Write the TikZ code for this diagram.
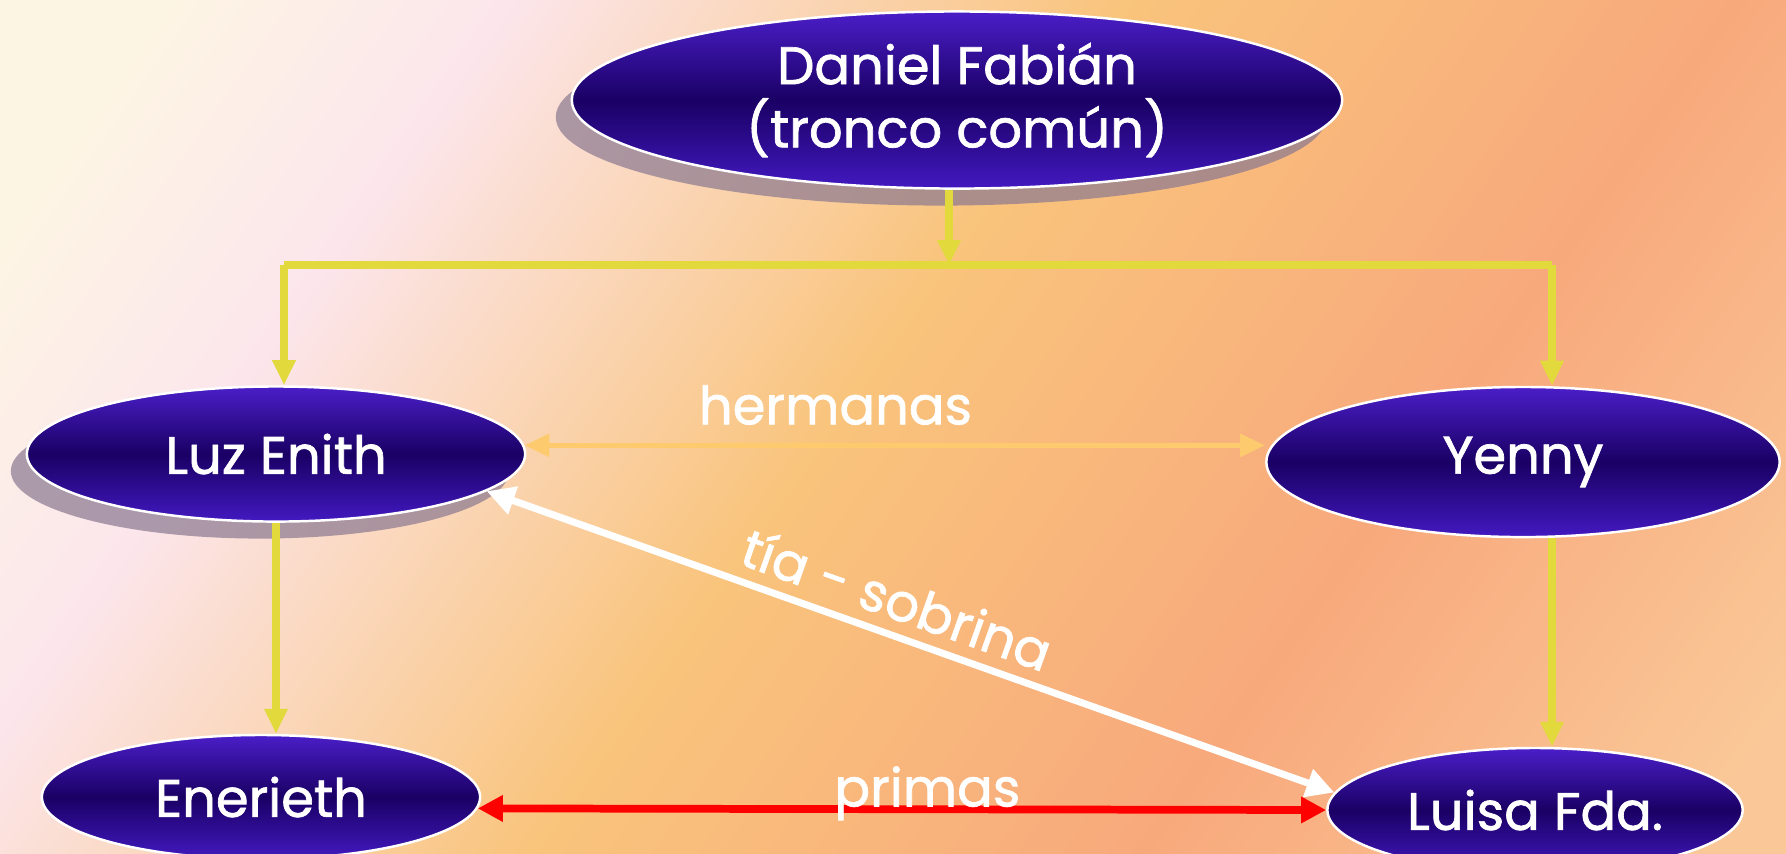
\documentclass[tikz,border=0pt]{standalone}
\usepackage{fontspec}
\setmainfont{Poppins}[FakeBold=1.3]
\usetikzlibrary{shapes.geometric,arrows.meta,shadows}
\definecolor{fondoA}{HTML}{FDF5E4}
\definecolor{fondoB}{HTML}{FCE6EC}
\definecolor{fondoC}{HTML}{F9C47C}
\definecolor{fondoD}{HTML}{F8A97C}
\definecolor{fondoE}{HTML}{FAC898}
\definecolor{ovaloA}{HTML}{4A1EC8}
\definecolor{ovaloB}{HTML}{1A0064}
\definecolor{ovaloC}{HTML}{4219C0}
\definecolor{amarillo}{HTML}{E2DA3C}
\definecolor{naranja}{HTML}{FDCB6E}
\definecolor{sombragris}{HTML}{8A7890}
\pgfdeclarehorizontalshading{fondo}{100bp}{color(0bp)=(fondoA); color(20bp)=(fondoA); color(30bp)=(fondoB); color(48bp)=(fondoC); color(66bp)=(fondoD); color(82bp)=(fondoE); color(100bp)=(fondoE)}
\tikzset{
	persona/.style={ellipse,draw=white,line width=0.7pt,top color=ovaloA,bottom color=ovaloC,middle color=ovaloB,text=white,align=center,inner sep=0pt,font=\fontsize{15}{18}\selectfont},
	sombra/.style={drop shadow={shadow xshift=-1.6mm,shadow yshift=-1.7mm,fill=sombragris,opacity=.7}},
	rama/.style={draw=amarillo,line width=2.2pt},
	rotulo/.style={text=white,font=\fontsize{15}{18}\selectfont}
}
\begin{document}
\begin{tikzpicture}[>={Triangle[length=2.5mm,width=2.2mm]},x=0.01cm,y=-0.01cm]
	\useasboundingbox (0,0) rectangle (1786,853);
	\shade[shading=fondo,shading angle=-35] (0,0) rectangle (1786,853); % fondo
	\node[persona,sombra,minimum width=7.7cm,minimum height=1.77cm] (dan) at (957,100) {Daniel Fabián\\(tronco común)};
	\node[persona,sombra,minimum width=4.98cm,minimum height=1.35cm] (luz) at (276,454) {Luz Enith};
	\node[persona,minimum width=5.13cm,minimum height=1.5cm] (yen) at (1523,462) {Yenny};
	\node[persona,minimum width=4.38cm,minimum height=1.24cm] (ene) at (261,797) {Enerieth};
	\node[persona,minimum width=4.15cm,minimum height=1.24cm] (lui) at (1535,810) {Luisa Fda.};
	\coordinate (ci) at (284,265);
	\coordinate (cm) at (949,265);
	\coordinate (cd) at (1552,265);
	\draw[rama,->] (cm |- dan.south) -- (cm);
	\draw[rama] (ci) -- (cd);
	\draw[rama,->] (ci) -- (ci |- luz.north);
	\draw[rama,->] (cd) -- (cd |- yen.north);
	\draw[rama,->] (luz.south) -- (luz.south |- ene.north); % hija
	\draw[rama,->] (cd |- yen.south) -- (cd |- lui.north); % hija
	\draw[naranja,line width=1.6pt,<->] (luz.2) -- (luz.2 -| yen.west) node[rotulo,pos=.42,above=0.6mm] {hermanas};
	\draw[white,line width=2pt,<->,>={Triangle[length=2.8mm,width=2.8mm]}] (luz.-10) -- (lui.175) node[rotulo,pos=.47,above,sloped] {tía - sobrina};
	\draw[red,line width=2.2pt,<->,>={Triangle[length=2.5mm,width=2.5mm]}] (ene.-3.5) -- (lui.west) node[rotulo,pos=.53,yshift=1.6mm] {primas};
\end{tikzpicture}
\end{document}
